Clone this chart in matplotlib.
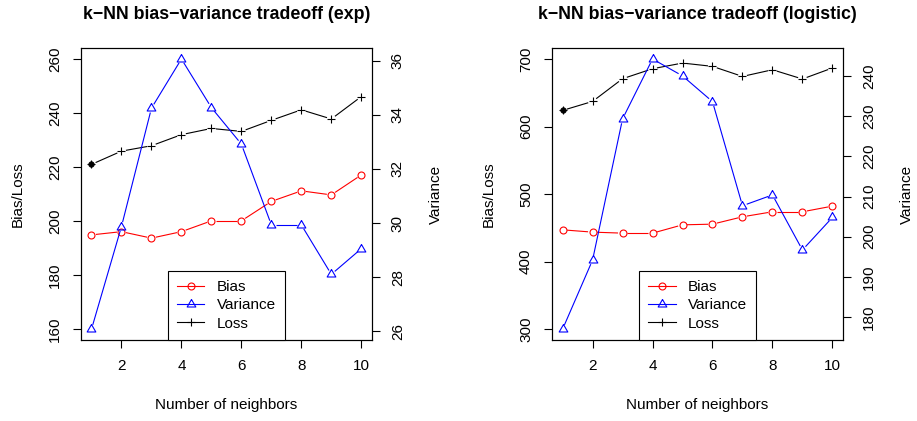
import numpy as np
import matplotlib
matplotlib.use("Agg")
import matplotlib.pyplot as plt
from matplotlib.lines import Line2D

plt.rcParams['font.family'] = ['Liberation Sans', 'DejaVu Sans']

# ---------------- data ----------------
neighbors = [1, 2, 3, 4, 5, 6, 7, 8, 9, 10]

exp_bias = [194.9, 196.1, 193.7, 196.1, 200.1, 200.1, 207.3, 211.2, 209.7, 217.1]
exp_loss = [221.0, 225.9, 227.9, 232.0, 234.3, 233.2, 237.3, 241.2, 237.8, 246.1]
exp_variance = [26.07, 29.87, 34.25, 36.07, 34.27, 32.92, 29.93, 29.93, 28.10, 29.05]

log_bias = [447.1, 443.7, 442.2, 442.2, 454.5, 455.5, 466.4, 473.8, 473.8, 482.2]
log_loss = [623.9, 637.2, 670.8, 685.6, 694.0, 689.1, 674.2, 684.1, 670.4, 686.7]
log_variance = [177.0, 194.2, 229.3, 244.2, 240.0, 233.6, 207.7, 210.4, 196.7, 204.8]

titles = ["k\u2212NN bias\u2212variance tradeoff (exp)",
          "k\u2212NN bias\u2212variance tradeoff (logistic)"]
x_label = "Number of neighbors"
left_label = "Bias/Loss"
right_label = "Variance"
legend_labels = ["Bias", "Variance", "Loss"]

x_ticks = [2, 4, 6, 8, 10]
exp_left_ticks = [160, 180, 200, 220, 240, 260]
exp_right_ticks = [26, 28, 30, 32, 34, 36]
log_left_ticks = [300, 400, 500, 600, 700]
log_right_ticks = [180, 190, 200, 210, 220, 230, 240]

exp_left_range = (160, 260)
exp_right_range = (26.07, 36.07)
log_left_range = (300, 700)
log_right_range = (177.0, 244.2)

# ---------------- style ----------------
RED = "#FF0000"
BLUE = "#0000FF"
BLACK = "#000000"
FS = 11
LW = 0.8
GAP = 4.5  # px gap around points (R type="b")

tri_verts = [(0.0, 1.1547), (-1.0, -0.5774), (1.0, -0.5774), (0.0, 1.1547)]

fig = plt.figure(figsize=(9.17, 4.21), dpi=100)
W, H = 917.0, 421.0


def r_lim(lo, hi):
    p = 0.04 * (hi - lo)
    return lo - p, hi + p


def gapped(ax, x, y, color):
    pts = ax.transData.transform(np.column_stack([x, y]))
    inv = ax.transData.inverted()
    for p0, p1 in zip(pts[:-1], pts[1:]):
        d = p1 - p0
        L = np.hypot(d[0], d[1])
        if L > 2 * GAP:
            u = d / L
            a = inv.transform(p0 + u * GAP)
            b = inv.transform(p1 - u * GAP)
            ax.plot([a[0], b[0]], [a[1], b[1]], color=color, lw=LW,
                    solid_capstyle='butt')


def style_axis(ax):
    ax.tick_params(direction='out', length=6.0, width=LW, labelsize=FS,
                   pad=7.5, colors=BLACK)
    for s in ax.spines.values():
        s.set_linewidth(LW)


def panel(px_left, bias, loss, var, lrange, rrange, lticks, rticks, title):
    ax = fig.add_axes([px_left / W, (H - 340.0) / H, 291.4 / W, 291.8 / H])
    ax.set_xlim(*r_lim(min(neighbors), max(neighbors)))
    ax.set_ylim(*r_lim(*lrange))
    ax2 = ax.twinx()
    ax2.set_ylim(*r_lim(*rrange))

    ax.set_xticks(x_ticks)
    ax.set_yticks(lticks)
    ax2.set_yticks(rticks)
    style_axis(ax)
    style_axis(ax2)
    for lab in ax.get_yticklabels():
        lab.set_rotation(90)
        lab.set_va('center')
    for lab in ax2.get_yticklabels():
        lab.set_rotation(90)
        lab.set_va('center')

    # bias
    gapped(ax, neighbors, bias, RED)
    ax.plot(neighbors, bias, linestyle='none', marker='o', ms=5.0,
            mfc='none', mec=RED, mew=LW)
    # loss
    gapped(ax, neighbors, loss, BLACK)
    ax.plot(neighbors, loss, linestyle='none', marker='+', ms=5.8,
            mec=BLACK, mew=LW)
    ax.plot(neighbors[:1], loss[:1], linestyle='none', marker='o', ms=4.0,
            mfc=BLACK, mec=BLACK, mew=0.5)
    # variance (right axis)
    gapped(ax2, neighbors, var, BLUE)
    ax2.plot(neighbors, var, linestyle='none', marker=tri_verts, ms=7.2,
             mfc='none', mec=BLUE, mew=LW)

    ax.set_xlabel(x_label, fontsize=FS, va='center')
    ax.xaxis.set_label_coords(0.5, -0.223)
    ax.set_ylabel(left_label, fontsize=FS, va='center')
    ax.yaxis.set_label_coords(-0.217, 0.5)
    ax2.set_ylabel(right_label, fontsize=FS, va='center', rotation=90)
    ax2.yaxis.set_label_coords(1.219, 0.5)

    ax.text(0.5, 1.117, title, transform=ax.transAxes, ha='center',
            va='center', fontsize=12.8, fontweight='bold')

    handles = [
        Line2D([], [], color=RED, lw=LW, marker='o', ms=5.0, mfc='none', mew=LW),
        Line2D([], [], color=BLUE, lw=LW, marker=tri_verts, ms=7.2, mfc='none', mew=LW),
        Line2D([], [], color=BLACK, lw=LW, marker='+', ms=5.8, mew=LW),
    ]
    leg = ax2.legend(handles, legend_labels, loc='lower center',
                     bbox_to_anchor=(0.5, 0.0), fontsize=FS, frameon=True,
                     fancybox=False, framealpha=1.0, edgecolor=BLACK,
                     borderaxespad=0.0, borderpad=0.62, handlelength=1.8,
                     handletextpad=0.8, labelspacing=0.28)
    leg.get_frame().set_linewidth(LW)
    return ax, ax2


panel(80.7, exp_bias, exp_loss, exp_variance, exp_left_range, exp_right_range,
      exp_left_ticks, exp_right_ticks, titles[0])
panel(551.8, log_bias, log_loss, log_variance, log_left_range, log_right_range,
      log_left_ticks, log_right_ticks, titles[1])

fig.savefig("out.png", dpi=100, facecolor='white')
